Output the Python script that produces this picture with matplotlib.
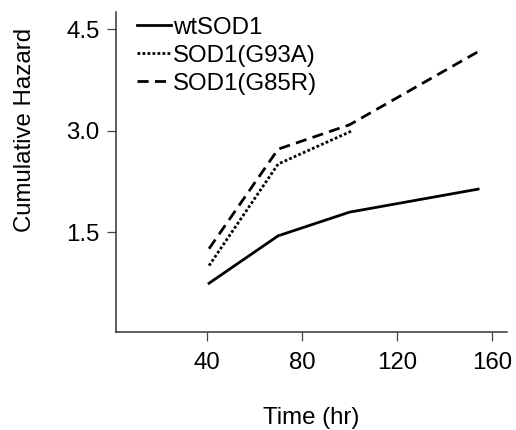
import matplotlib
matplotlib.use("Agg")
import matplotlib.pyplot as plt

plt.rcParams['font.family'] = ['Liberation Sans', 'DejaVu Sans']

time_wt = [41, 70, 100, 154]
hazard_wt = [0.75, 1.45, 1.80, 2.14]

time_g93a = [41, 70, 101]
hazard_g93a = [1.01, 2.51, 3.00]

time_g85r = [41, 70, 100, 154]
hazard_g85r = [1.26, 2.73, 3.09, 4.17]

xticks = [40, 80, 120, 160]
yticks = [1.5, 3.0, 4.5]

fig = plt.figure(figsize=(5.16, 4.30), dpi=100)
ax = fig.add_axes([0.2242, 0.2279, 0.7578, 0.7449])

ax.plot(time_wt, hazard_wt, color='black', lw=2, ls='-', label='wtSOD1')
ax.plot(time_g93a, hazard_g93a, color='black', lw=2, ls=(0, (1, 0.8)), label='SOD1(G93A)')
ax.plot(time_g85r, hazard_g85r, color='black', lw=2, ls=(0, (4, 2.3)), label='SOD1(G85R)')

ax.set_xlim(1.8, 166)
ax.set_ylim(0.03, 4.76)
ax.set_xticks(xticks)
ax.set_xticklabels([str(t) for t in xticks])
ax.set_yticks(yticks)
ax.set_yticklabels([f'{t:.1f}' for t in yticks])

for side in ['top', 'right']:
    ax.spines[side].set_visible(False)
for side in ['left', 'bottom']:
    ax.spines[side].set_linewidth(1.1)
    ax.spines[side].set_color('#333333')
ax.tick_params(length=6.5, width=0.9, color='#444444', labelsize=17.3, pad=5)
ax.tick_params(axis='x', pad=8)

ax.set_xlabel('Time (hr)', fontsize=17.3, labelpad=24)
ax.set_ylabel('Cumulative Hazard', fontsize=17.3)
ax.yaxis.set_label_coords(-0.204, 0.63)

# legend sits in the empty top-left corner, no frame
ax.legend(loc='upper left', bbox_to_anchor=(0.03, 1.015), frameon=False,
          fontsize=17.3, handlelength=1.4, handletextpad=0.1,
          labelspacing=0.25, borderaxespad=0)

fig.savefig('out.png', dpi=100)
